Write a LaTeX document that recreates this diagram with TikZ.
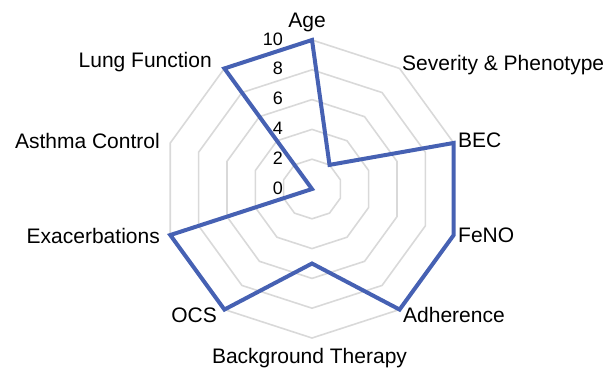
\documentclass[tikz,border=0pt]{standalone}
\usepackage{fontspec}
\setmainfont{Liberation Sans}
\usetikzlibrary{positioning}
\definecolor{ringgray}{HTML}{D9D9D9}
\definecolor{lineblue}{HTML}{4661B3}
\tikzstyle{ring} = [ringgray, line width=1.6pt]
\tikzstyle{series} = [lineblue, line width=4pt, line join=miter]
\tikzstyle{axislabel} = [font=\fontsize{21}{24}\selectfont, text=black, inner sep=0pt]
\tikzstyle{ticklabel} = [font=\fontsize{18}{20}\selectfont, text=black, inner sep=0pt, anchor=east]

\begin{document}
\begin{tikzpicture}[x=1pt,y=1pt]
	\useasboundingbox (-312,-181) rectangle (300,189);
	
	%Rings
	\foreach \r in {2,4,6,8,10}
		\draw[ring] (90:\r*14.9) \foreach \a in {54,18,...,-234} { -- (\a:\r*14.9) } -- cycle;
	
	%Data points
	\coordinate (Age) at (90:149);
	\coordinate (Severity) at (54:29.8);
	\coordinate (BEC) at (18:149);
	\coordinate (FeNO) at (-18:149);
	\coordinate (Adherence) at (-54:149);
	\coordinate (Therapy) at (-90:74.5);
	\coordinate (OCS) at (-126:149);
	\coordinate (Exacerbations) at (-162:149);
	\coordinate (Control) at (0,0);
	\coordinate (Lung) at (126:149);
	
	%Lines
	\draw[series] (Age) -- (Severity) -- (BEC) -- (FeNO) -- (Adherence) -- (Therapy) -- (OCS) -- (Exacerbations) -- (Control) -- (Lung) -- cycle;
	
	%Tick labels
	\foreach \v in {0,2,...,10}
		\node[ticklabel] (tick\v) at (-29,\v*14.9+1) {\v};
	
	%Axis labels
	\node[axislabel, anchor=base] (AgeLabel) at (-5,162) {Age};
	\node[axislabel, anchor=base west] (SeverityLabel) at (90,119) {Severity \& Phenotype};
	\node[axislabel, anchor=base west] (BECLabel) at (146,42) {BEC};
	\node[axislabel, anchor=base west] (FeNOLabel) at (146,-53) {FeNO};
	\node[axislabel, anchor=base west] (AdherenceLabel) at (91,-133) {Adherence};
	\node[axislabel, anchor=base] (TherapyLabel) at (-2.5,-174) {Background Therapy};
	\node[axislabel, anchor=base east] (OCSLabel) at (-95,-133) {OCS};
	\node[axislabel, anchor=base east] (ExacerbationsLabel) at (-152,-54) {Exacerbations};
	\node[axislabel, anchor=base east] (ControlLabel) at (-152,41) {Asthma Control};
	\node[axislabel, anchor=base east] (LungLabel) at (-100,122) {Lung Function};
\end{tikzpicture}
\end{document}
